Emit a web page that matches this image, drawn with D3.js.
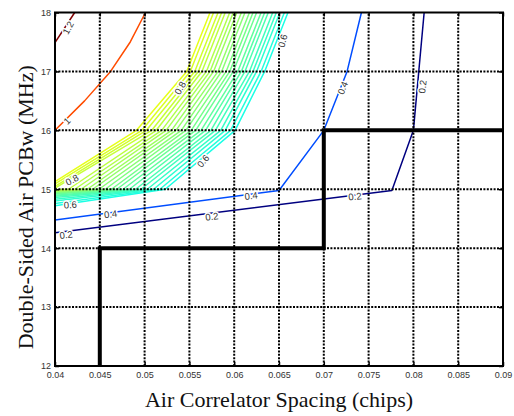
<!DOCTYPE html>
<html>
<head>
<meta charset="utf-8">
<script src="https://cdn.jsdelivr.net/npm/d3@7"></script>
<style>
  body { margin: 0; background: #fff; }
  .tick text { font-family: "Liberation Sans", Arial, sans-serif; font-size: 9px; fill: #333; }
  .axis-title { font-family: "Liberation Serif", "Times New Roman", serif; font-size: 22px; fill: #111; }
  .clabel { font-family: "Liberation Sans", Arial, sans-serif; font-size: 9.5px; fill: #333;
            stroke: #fff; stroke-width: 3px; paint-order: stroke; stroke-linejoin: round; }
</style>
</head>
<body>
<div id="chart"></div>
<script>
const xTicks = [0.04, 0.045, 0.05, 0.055, 0.06, 0.065, 0.07, 0.075, 0.08, 0.085, 0.09];
const xTickLabels = ["0.04", "0.045", "0.05", "0.055", "0.06", "0.065", "0.07", "0.075", "0.08", "0.085", "0.09"];
const yTicks = [12, 13, 14, 15, 16, 17, 18];
const yTickLabels = ["12", "13", "14", "15", "16", "17", "18"];

// single contour lines
const level12X = [0.04, 0.0422];
const level12Y = [17.49, 18.0];
const level10X = [0.04, 0.0433, 0.0462, 0.0484, 0.0501];
const level10Y = [16.0, 16.5, 17.0, 17.5, 18.0];
const level04X = [0.04, 0.065, 0.07, 0.0726, 0.0742];
const level04Y = [14.48, 14.98, 16.0, 17.0, 18.0];
const level02X = [0.04, 0.0776, 0.08, 0.0806, 0.0812];
const level02Y = [14.26, 14.98, 16.0, 17.0, 18.0];

// dense band of contours between 0.6 and 0.8
const bandLevels = [0.60, 0.61, 0.62, 0.63, 0.64, 0.65, 0.66, 0.67, 0.68, 0.69, 0.70,
                    0.71, 0.72, 0.73, 0.74, 0.75, 0.76, 0.77, 0.78, 0.79, 0.80];
const bandLeftY = [14.72, 14.76, 14.80, 14.83, 14.86, 14.88, 14.90, 14.92, 14.93, 14.94, 14.95,
                   14.96, 14.97, 14.97, 14.98, 14.99, 14.99, 15.02, 15.05, 15.09, 15.13];
const bandX15 = [0.0523, 0.0517, 0.0510, 0.0503, 0.0496, 0.0490, 0.0483, 0.0476, 0.0469, 0.0463, 0.0456,
                 0.0449, 0.0442, 0.0436, 0.0429, 0.0422, 0.0415, null, null, null, null];
const bandX16 = [0.0601, 0.0596, 0.0590, 0.0585, 0.0579, 0.0574, 0.0568, 0.0563, 0.0557, 0.0552, 0.0546,
                 0.0541, 0.0535, 0.0530, 0.0524, 0.0519, 0.0513, 0.0508, 0.0502, 0.0497, 0.0491];
const bandX17 = [0.0634, 0.0630, 0.0625, 0.0621, 0.0617, 0.0612, 0.0608, 0.0604, 0.0599, 0.0595, 0.0591,
                 0.0586, 0.0582, 0.0577, 0.0573, 0.0569, 0.0564, 0.0560, 0.0556, 0.0551, 0.0547];
const bandX18 = [0.0660, 0.0656, 0.0651, 0.0647, 0.0643, 0.0638, 0.0634, 0.0630, 0.0625, 0.0621, 0.0617,
                 0.0612, 0.0608, 0.0603, 0.0599, 0.0595, 0.0590, 0.0586, 0.0582, 0.0577, 0.0573];

// thick boundary
const boundaryX = [0.045, 0.045, 0.07, 0.07, 0.09];
const boundaryY = [12, 14, 14, 16, 16];

// contour labels
const labelText = ["1.2", "1", "0.8", "0.8", "0.6", "0.6", "0.6", "0.4", "0.4", "0.4", "0.2", "0.2", "0.2", "0.2"];
const labelX = [0.04145, 0.04134, 0.0419, 0.05395, 0.0417, 0.05652, 0.06539, 0.0462, 0.06188, 0.0721, 0.04123, 0.0575, 0.07348, 0.0810];
const labelY = [17.74, 16.16, 15.16, 16.72, 14.74, 15.48, 17.52, 14.58, 14.89, 16.72, 14.23, 14.54, 14.88, 16.74];
const labelAngle = [-62, -45, -28, -60, -4, -50, -75, -7, -7, -68, -7, -7, -7, -83];

const W = 514, H = 416;
const margin = { top: 12.5, right: 11, bottom: 50, left: 55 };

const x = d3.scaleLinear().domain([0.04, 0.09]).range([margin.left, W - margin.right]);
const y = d3.scaleLinear().domain([12, 18]).range([H - margin.bottom, margin.top]);

// jet colormap spanning the contour levels
const jet = d3.scaleLinear()
    .domain([0.2, 0.325, 0.575, 0.825, 1.075, 1.2])
    .range(["#000080", "#0000ff", "#00ffff", "#ffff00", "#ff0000", "#800000"]);

const svg = d3.select("#chart").append("svg")
    .attr("width", W)
    .attr("height", H);

svg.append("rect").attr("width", W).attr("height", H).attr("fill", "#fff");

svg.append("clipPath").attr("id", "plot-clip")
    .append("rect")
    .attr("x", x(0.04)).attr("y", y(18))
    .attr("width", x(0.09) - x(0.04)).attr("height", y(12) - y(18));

const line = d3.line().x(d => x(d[0])).y(d => y(d[1]));

const contours = [];
contours.push({ level: 1.2, pts: level12X.map((v, i) => [v, level12Y[i]]) });
contours.push({ level: 1.0, pts: level10X.map((v, i) => [v, level10Y[i]]) });
bandLevels.forEach((lv, i) => {
    const pts = [[0.04, bandLeftY[i]]];
    if (bandX15[i] !== null) pts.push([bandX15[i], 15]);
    pts.push([bandX16[i], 16], [bandX17[i], 17], [bandX18[i], 18]);
    contours.push({ level: lv, pts: pts });
});
contours.push({ level: 0.4, pts: level04X.map((v, i) => [v, level04Y[i]]) });
contours.push({ level: 0.2, pts: level02X.map((v, i) => [v, level02Y[i]]) });

const plot = svg.append("g").attr("clip-path", "url(#plot-clip)");

plot.selectAll("path.contour")
    .data(contours)
    .enter().append("path")
    .attr("class", "contour")
    .attr("d", d => line(d.pts))
    .attr("fill", "none")
    .attr("stroke", d => jet(d.level))
    .attr("stroke-width", 1.5)
    .attr("stroke-linejoin", "round");

// dotted grid
const grid = svg.append("g");
grid.selectAll("line.gx")
    .data(xTicks.slice(1, -1))
    .enter().append("line")
    .attr("x1", d => x(d)).attr("x2", d => x(d))
    .attr("y1", y(12)).attr("y2", y(18))
    .attr("stroke", "#000").attr("stroke-width", 2)
    .attr("stroke-dasharray", "2,1.4");
grid.selectAll("line.gy")
    .data(yTicks.slice(1, -1))
    .enter().append("line")
    .attr("x1", x(0.04)).attr("x2", x(0.09))
    .attr("y1", d => y(d)).attr("y2", d => y(d))
    .attr("stroke", "#000").attr("stroke-width", 2)
    .attr("stroke-dasharray", "2,1.4");

// thick boundary line
svg.append("path")
    .datum(boundaryX.map((v, i) => [v, boundaryY[i]]))
    .attr("d", line)
    .attr("fill", "none")
    .attr("stroke", "#000")
    .attr("stroke-width", 4)
    .attr("stroke-linejoin", "miter");

// contour labels
svg.selectAll("text.clabel")
    .data(labelText)
    .enter().append("text")
    .attr("class", "clabel")
    .attr("text-anchor", "middle")
    .attr("dominant-baseline", "central")
    .attr("transform", (d, i) => "translate(" + x(labelX[i]) + "," + y(labelY[i]) + ") rotate(" + labelAngle[i] + ")")
    .text(d => d);

// axes (ticks pointing inward, like matlab)
const xAxis = svg.append("g")
    .attr("transform", "translate(0," + y(12) + ")")
    .call(d3.axisBottom(x).tickValues(xTicks).tickFormat((d, i) => xTickLabels[i]).tickSize(-4).tickPadding(6));
const yAxis = svg.append("g")
    .attr("transform", "translate(" + x(0.04) + ",0)")
    .call(d3.axisLeft(y).tickValues(yTicks).tickFormat((d, i) => yTickLabels[i]).tickSize(-4).tickPadding(4));
const xTop = svg.append("g")
    .attr("transform", "translate(0," + y(18) + ")")
    .call(d3.axisTop(x).tickValues(xTicks).tickFormat("").tickSize(-4));
const yRight = svg.append("g")
    .attr("transform", "translate(" + x(0.09) + ",0)")
    .call(d3.axisRight(y).tickValues(yTicks).tickFormat("").tickSize(-4));

[xAxis, yAxis, xTop, yRight].forEach(g => {
    g.select(".domain").remove();
    g.selectAll(".tick line").attr("stroke", "#000").attr("stroke-width", 1.5);
});

// frame
svg.append("rect")
    .attr("x", x(0.04)).attr("y", y(18))
    .attr("width", x(0.09) - x(0.04)).attr("height", y(12) - y(18))
    .attr("fill", "none")
    .attr("stroke", "#000")
    .attr("stroke-width", 2);

// axis titles
svg.append("text")
    .attr("class", "axis-title")
    .attr("x", (x(0.04) + x(0.09)) / 2)
    .attr("y", 407)
    .style("text-anchor", "middle")
    .text("Air Correlator Spacing (chips)");

svg.append("text")
    .attr("class", "axis-title")
    .attr("transform", "translate(33," + ((y(12) + y(18)) / 2 + 18) + ") rotate(-90)")
    .style("text-anchor", "middle")
    .text("Double-Sided Air PCBw (MHz)");
</script>
</body>
</html>
